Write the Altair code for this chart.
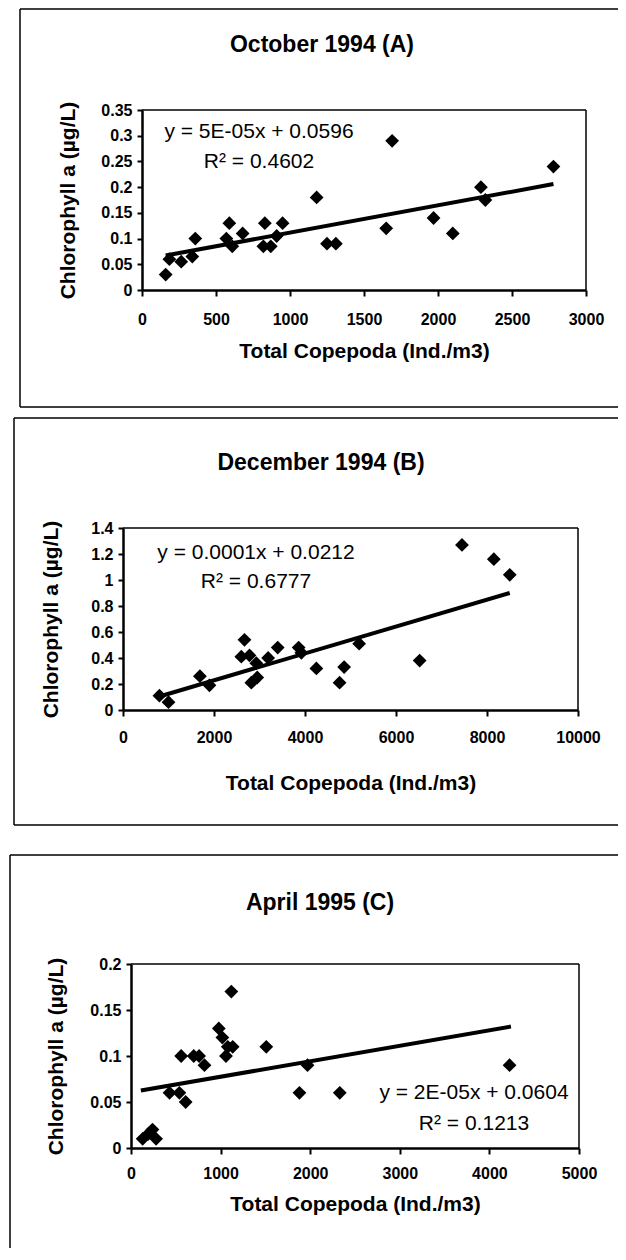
import altair as alt

FONT = "Liberation Sans"

# ---------------- Panel A : October 1994 ----------------
a_x = [160, 185, 265, 340, 360, 570, 590, 610, 680, 820, 830, 870, 910, 950,
       1180, 1250, 1310, 1650, 1690, 1970, 2100, 2290, 2320, 2780]
a_y = [0.03, 0.06, 0.055, 0.065, 0.10, 0.10, 0.13, 0.085, 0.11, 0.085, 0.13, 0.085, 0.105, 0.13,
       0.18, 0.09, 0.09, 0.12, 0.29, 0.14, 0.11, 0.20, 0.175, 0.24]
a_trend_x = [160, 2780]
a_trend_y = [0.067, 0.206]
a_xticks = [0, 500, 1000, 1500, 2000, 2500, 3000]
a_yticks = [0, 0.05, 0.1, 0.15, 0.2, 0.25, 0.3, 0.35]
a_title = "October 1994 (A)"
a_eq = "y = 5E-05x + 0.0596"
a_r2 = "R² = 0.4602"

# ---------------- Panel B : December 1994 ----------------
b_x = [800, 1000, 1690, 1900, 2600, 2670, 2780, 2820, 2930, 2950, 3190, 3400, 3860, 3920,
       4250, 4760, 4860, 5190, 6520, 7450, 8150, 8500]
b_y = [0.11, 0.06, 0.26, 0.19, 0.41, 0.54, 0.42, 0.21, 0.36, 0.25, 0.40, 0.48, 0.48, 0.44,
       0.32, 0.21, 0.33, 0.51, 0.38, 1.27, 1.16, 1.04]
b_trend_x = [800, 8500]
b_trend_y = [0.104, 0.90]
b_xticks = [0, 2000, 4000, 6000, 8000, 10000]
b_yticks = [0, 0.2, 0.4, 0.6, 0.8, 1, 1.2, 1.4]
b_title = "December 1994 (B)"
b_eq = "y = 0.0001x + 0.0212"
b_r2 = "R² = 0.6777"

# ---------------- Panel C : April 1995 ----------------
c_x = [130, 190, 240, 280, 430, 540, 610, 560, 700, 760, 820, 980, 1020, 1080,
       1060, 1135, 1120, 1510, 1880, 1970, 2330, 4225]
c_y = [0.01, 0.015, 0.02, 0.01, 0.06, 0.06, 0.05, 0.10, 0.10, 0.10, 0.09, 0.13, 0.12, 0.11,
       0.10, 0.11, 0.17, 0.11, 0.06, 0.09, 0.06, 0.09]
c_trend_x = [110, 4240]
c_trend_y = [0.0625, 0.132]
c_xticks = [0, 1000, 2000, 3000, 4000, 5000]
c_yticks = [0, 0.05, 0.1, 0.15, 0.2]
c_title = "April 1995 (C)"
c_eq = "y = 2E-05x + 0.0604"
c_r2 = "R² = 0.1213"

x_title = "Total Copepoda (Ind./m3)"
y_title = "Chlorophyll a (µg/L)"

# ---------------- layout (page pixel positions) ----------------
O = 8            # page margin: view origin on the page
VW, VH = 610, 1240
geo_a = dict(L=142, T=110, R=586, B=290, fl=20, ft=9, fb=407,
             title=(322, 45), eq=(259, 132), r2=(259, 162),
             xlp=15, xty=67.5, ytx=-67.5)
geo_b = dict(L=123, T=528, R=578, B=710, fl=14, ft=418, fb=825,
             title=(321, 463), eq=(256, 553), r2=(256, 582),
             xlp=13, xty=79.5, ytx=-65.5)
geo_c = dict(L=131, T=964, R=579, B=1148, fl=10, ft=855, fb=None,
             title=(320, 903), eq=(474, 1093), r2=(474, 1124),
             xlp=11, xty=62.5, ytx=-68.5)

one = alt.Data(values=[{"k": 1}])
LABEL_EXPR = "toString(datum.value)"


def rule(x, y, x2=None, y2=None, width=1.5):
    enc = dict(x=alt.value(x), y=alt.value(y))
    if x2 is not None:
        enc["x2"] = alt.value(x2)
    if y2 is not None:
        enc["y2"] = alt.value(y2)
    return alt.Chart(one).mark_rule(color="black", strokeWidth=width).encode(**enc)


def text(s, x, y, size, weight="normal"):
    return alt.Chart(one).mark_text(
        text=s, font=FONT, fontSize=size, fontWeight=weight, color="black",
        align="center", baseline="middle"
    ).encode(x=alt.value(x - O), y=alt.value(y - O))


def panel(px, py, tx, ty, xticks, yticks, title, eq, r2, g):
    L, T, R, B = g["L"] - O, g["T"] - O, g["R"] - O, g["B"] - O
    xs = alt.Scale(domain=[xticks[0], xticks[-1]], range=[L, R], nice=False, zero=False)
    ys = alt.Scale(domain=[yticks[0], yticks[-1]], range=[B, T], nice=False, zero=False)
    xa = alt.Axis(values=xticks, labelExpr=LABEL_EXPR, title=x_title, orient="bottom",
                  offset=B - VH, tickSize=6, labelPadding=g["xlp"],
                  titleY=g["xty"], titleBaseline="alphabetic")
    ya = alt.Axis(values=yticks, labelExpr=LABEL_EXPR, title=y_title, orient="left",
                  offset=-L, tickSize=5, labelPadding=5,
                  titleX=g["ytx"], titleBaseline="alphabetic")
    X = alt.X("x:Q", scale=xs, axis=xa)
    Y = alt.Y("y:Q", scale=ys, axis=ya)
    pts = alt.Data(values=[{"x": a, "y": b} for a, b in zip(px, py)])
    trd = alt.Data(values=[{"x": a, "y": b} for a, b in zip(tx, ty)])
    data_layer = alt.layer(
        alt.Chart(trd).mark_line(color="black", strokeWidth=4).encode(x=X, y=Y),
        alt.Chart(pts).mark_point(shape="diamond", filled=True, color="black",
                                  size=190, opacity=1).encode(x=X, y=Y),
    )
    deco = []
    fl, ft = g["fl"] - O, g["ft"] - O
    # outer frame
    deco.append(rule(fl, ft, x2=VW + 2))
    if g["fb"] is not None:
        fb = g["fb"] - O
        deco.append(rule(fl, fb, x2=VW + 2))
        deco.append(rule(fl, ft, y2=fb))
    else:
        deco.append(rule(fl, ft, y2=VH + 2))
    # plot-area border (top and right)
    deco.append(rule(L, T, x2=R, width=1.5))
    deco.append(rule(R, T, y2=B, width=1.5))
    # texts
    deco.append(text(title, g["title"][0], g["title"][1], 23, "bold"))
    deco.append(text(eq, g["eq"][0], g["eq"][1], 21))
    deco.append(text(r2, g["r2"][0], g["r2"][1], 21))
    return data_layer, deco


da, ka = panel(a_x, a_y, a_trend_x, a_trend_y, a_xticks, a_yticks, a_title, a_eq, a_r2, geo_a)
db, kb = panel(b_x, b_y, b_trend_x, b_trend_y, b_xticks, b_yticks, b_title, b_eq, b_r2, geo_b)
dc, kc = panel(c_x, c_y, c_trend_x, c_trend_y, c_xticks, c_yticks, c_title, c_eq, c_r2, geo_c)

chart = alt.layer(da, db, dc, *ka, *kb, *kc).resolve_scale(
    x="independent", y="independent"
).properties(
    width=VW, height=VH, padding=0, background="white",
    autosize=alt.AutoSizeParams(type="none"),
).configure_view(
    strokeOpacity=0
).configure_axis(
    labelFont=FONT, labelFontSize=16, labelFontWeight="bold", labelColor="black",
    titleFont=FONT, titleFontSize=21, titleFontWeight="bold", titleColor="black",
    domainColor="black", domainWidth=2.5, tickColor="black", tickWidth=2,
    grid=False, labelFlush=False, labelOverlap=False, labelBound=False,
)

chart.save("out.html", embed_options={"renderer": "svg", "actions": False})
